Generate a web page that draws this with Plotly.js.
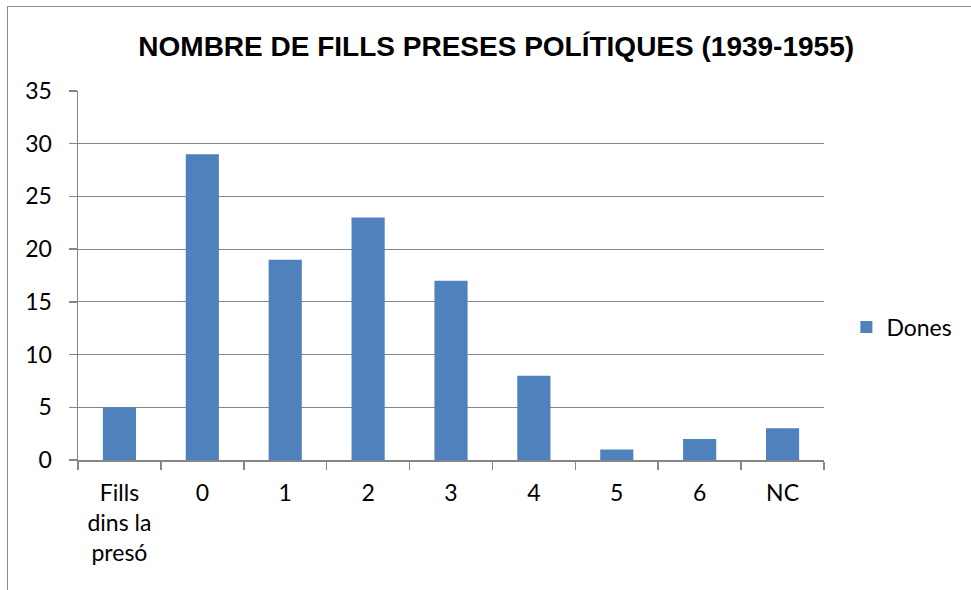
<!DOCTYPE html>
<html>
<head>
<meta charset="utf-8">
<script src="https://cdn.plot.ly/plotly-3.0.1.min.js"></script>
<style>
html,body{margin:0;padding:0;background:#fff;}
#frame{position:absolute;left:7px;top:6px;width:980px;height:600px;border-left:1.5px solid #8c8c8c;border-top:1.5px solid #8c8c8c;}
#chart{position:absolute;left:0;top:0;width:971px;height:590px;}
</style>
</head>
<body>
<div id="frame"></div>
<div id="chart"></div>
<script>
const categories = ["Fills<br>dins la<br>presó", "0", "1", "2", "3", "4", "5", "6", "NC"];
const dones = [5, 29, 19, 23, 17, 8, 1, 2, 3];
const seriesName = "Dones";
const titleText = "NOMBRE DE FILLS PRESES POLÍTIQUES (1939-1955)";

const lblFont = {family: "Lato, 'Open Sans', sans-serif", size: 23, color: "#000"};

Plotly.newPlot("chart", [{
  type: "bar",
  x: categories,
  y: dones,
  name: seriesName,
  marker: {color: "#4F81BD"},
  showlegend: true
}], {
  width: 971, height: 590,
  paper_bgcolor: "rgba(0,0,0,0)",
  plot_bgcolor: "rgba(0,0,0,0)",
  margin: {l: 78, r: 147, t: 91, b: 130},
  bargap: 0.6,
  title: {text: "<b>" + titleText + "</b>", x: 0.511, xanchor: "center", y: 0.922, yanchor: "middle",
          font: {family: "'Liberation Sans', Arial, sans-serif", size: 28, color: "#000"}},
  xaxis: {
    type: "category",
    showgrid: false,
    showline: true, linecolor: "#868686", linewidth: 1.5,
    ticks: "outside", tickson: "boundaries", ticklen: 8, tickcolor: "#868686", tickwidth: 1.5,
    tickfont: lblFont, ticklabelstandoff: 12,
    fixedrange: true
  },
  yaxis: {
    range: [0, 35], dtick: 5,
    showgrid: true, gridcolor: "#868686", gridwidth: 1,
    showline: true, linecolor: "#868686", linewidth: 1.5,
    ticks: "outside", ticklen: 8, tickcolor: "#868686", tickwidth: 1.5,
    tickfont: lblFont, ticklabelstandoff: 12,
    zeroline: false
  },
  legend: {x: 1.03, xanchor: "left", y: 0.36, yanchor: "middle", font: lblFont,
           bgcolor: "rgba(0,0,0,0)", itemwidth: 30}
}, {displayModeBar: false, staticPlot: true});
</script>
</body>
</html>
